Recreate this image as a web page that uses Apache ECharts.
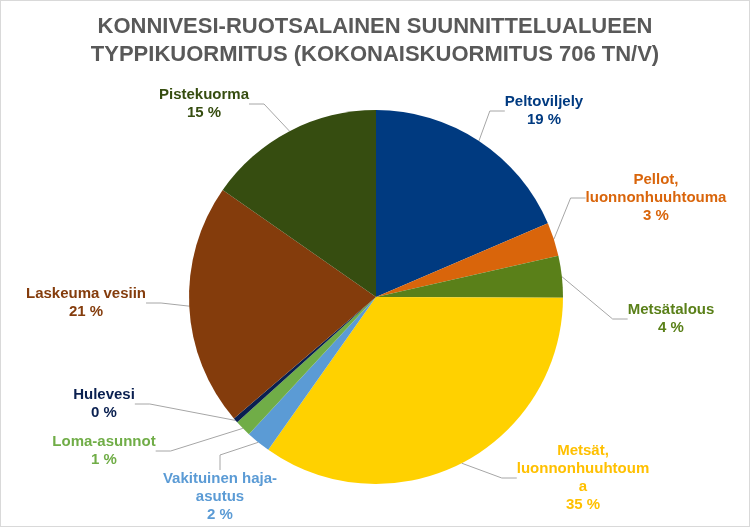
<!DOCTYPE html>
<html><head><meta charset="utf-8">
<script src="https://cdn.jsdelivr.net/npm/echarts@6/dist/echarts.min.js"></script>
<style>
html,body{margin:0;padding:0;background:#fff;}
#c{width:750px;height:527px;box-sizing:border-box;border:1px solid #d9d9d9;}
</style></head>
<body><div id="c"></div>
<script>
var categories = ['Peltoviljely','Pellot,\nluonnonhuuhtouma','Metsätalous','Metsät,\nluonnonhuuhtoum\na','Vakituinen haja-\nasutus','Loma-asunnot','Hulevesi','Laskeuma vesiin','Pistekuorma'];
var values = [131, 20.5, 25.5, 245, 15, 10, 3, 148, 108];
var sliceColors = ['#003A80','#D9650B','#5A8019','#FFD100','#5B9BD5','#70AD47','#0A2050','#843C0C','#364D10'];
var labelColors = ['#003A80','#D9650B','#5A8019','#FFC000','#5B9BD5','#70AD47','#0A2050','#843C0C','#364D10'];
var labelPos = [[543,110],[655,197],[670,318],[582,477],[219,496],[103,450],[103,403],[85,302],[203,103]];

var total = values.reduce(function(a,b){return a+b;},0);
var chart = echarts.init(document.getElementById('c'));
chart.setOption({
  title:{
    text:'KONNIVESI-RUOTSALAINEN SUUNNITTELUALUEEN\nTYPPIKUORMITUS (KOKONAISKUORMITUS 706 TN/V)',
    left:'center', top:7,
    textStyle:{fontFamily:'Liberation Sans, Arial', fontWeight:'bold', fontSize:22, color:'#595959', lineHeight:28}
  },
  series:[{
    type:'pie',
    center:[375,296],
    radius:[0,187],
    startAngle:90,
    clockwise:true,
    avoidLabelOverlap:false,
    animation:false,
    data: categories.map(function(n,i){
      return {name:n, value:values[i], itemStyle:{color:sliceColors[i]}, label:{color:labelColors[i]}};
    }),
    label:{
      show:true,
      position:'outside',
      fontFamily:'Liberation Sans, Arial',
      fontWeight:'bold',
      fontSize:15,
      lineHeight:18,
      align:'center',
      formatter:function(p){ return p.name + '\n' + Math.round(p.value/total*100) + ' %'; }
    },
    labelLine:{show:true, length:15, length2:15, lineStyle:{color:'#A6A6A6', width:1}},
    labelLayout:function(p){
      var pos = labelPos[p.dataIndex];
      return {x:pos[0], y:pos[1], align:'center', verticalAlign:'middle'};
    }
  }]
});
</script></body></html>
